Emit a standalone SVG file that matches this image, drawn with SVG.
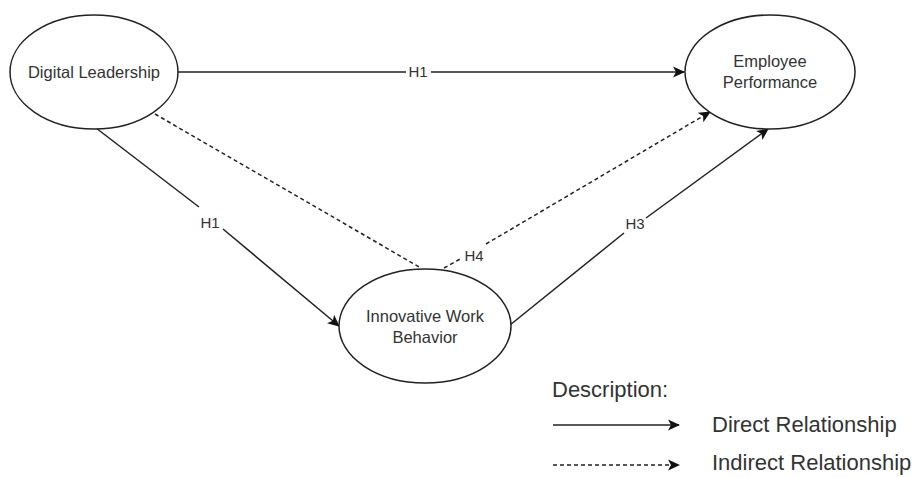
<svg xmlns="http://www.w3.org/2000/svg" width="918" height="477" viewBox="0 0 918 477">
<defs>
<style>
.node{fill:#fff;stroke:#222;stroke-width:1.5}
.nt{font-family:"Liberation Sans",Arial,sans-serif;font-size:16.5px;fill:#333;text-anchor:middle}
.lbl{font-family:"Liberation Sans",Arial,sans-serif;font-size:15px;fill:#333;text-anchor:middle}
.lg{font-family:"Liberation Sans",Arial,sans-serif;font-size:22px;fill:#333}
.c{fill:none;stroke:#222;stroke-width:1.5}
.d{stroke-dasharray:4 3}
</style>
<marker id="ah" viewBox="0 0 12 12" refX="11" refY="6" markerWidth="12" markerHeight="12" markerUnits="userSpaceOnUse" orient="auto">
<path d="M0,0.5 L12,6 L0,11.5 L3,6 Z" fill="#111"/>
</marker>
</defs>
<rect width="918" height="477" fill="#fff"/>
<g id="connectors">
<path class="c" d="M178,72 H406 M431,72 H684" marker-end="url(#ah)"/>
<path class="c" d="M96,128 L199,207"/>
<path class="c" d="M223,229 L339,326" marker-end="url(#ah)"/>
<path class="c d" d="M155,114 L421,268"/>
<path class="c d" d="M444,268 L462,258"/>
<path class="c d" d="M486,244 L710,112" marker-end="url(#ah)"/>
<path class="c" d="M510,325 L624,233"/>
<path class="c" d="M646,218 L768,129" marker-end="url(#ah)"/>
<text class="lbl" x="418" y="77">H1</text>
<text class="lbl" x="210" y="228">H1</text>
<text class="lbl" x="474" y="261">H4</text>
<text class="lbl" x="635" y="229">H3</text>
</g>
<g id="digital-leadership">
<ellipse class="node" cx="94" cy="72" rx="84" ry="57"/>
<text class="nt" x="94" y="78">Digital Leadership</text>
</g>
<g id="employee-performance">
<ellipse class="node" cx="770" cy="72" rx="85" ry="57"/>
<text class="nt" x="770" y="67">Employee</text>
<text class="nt" x="770" y="88">Performance</text>
</g>
<g id="innovative-work-behavior">
<ellipse class="node" cx="425" cy="326" rx="86" ry="57"/>
<text class="nt" x="425" y="322">Innovative Work</text>
<text class="nt" x="425" y="343">Behavior</text>
</g>
<g id="legend">
<text class="lg" x="552" y="397">Description:</text>
<path class="c" d="M553,425 H679" marker-end="url(#ah)"/>
<text class="lg" x="712" y="432">Direct Relationship</text>
<path class="c d" d="M553,465 H679" marker-end="url(#ah)"/>
<text class="lg" x="712" y="470">Indirect Relationship</text>
</g>
</svg>
